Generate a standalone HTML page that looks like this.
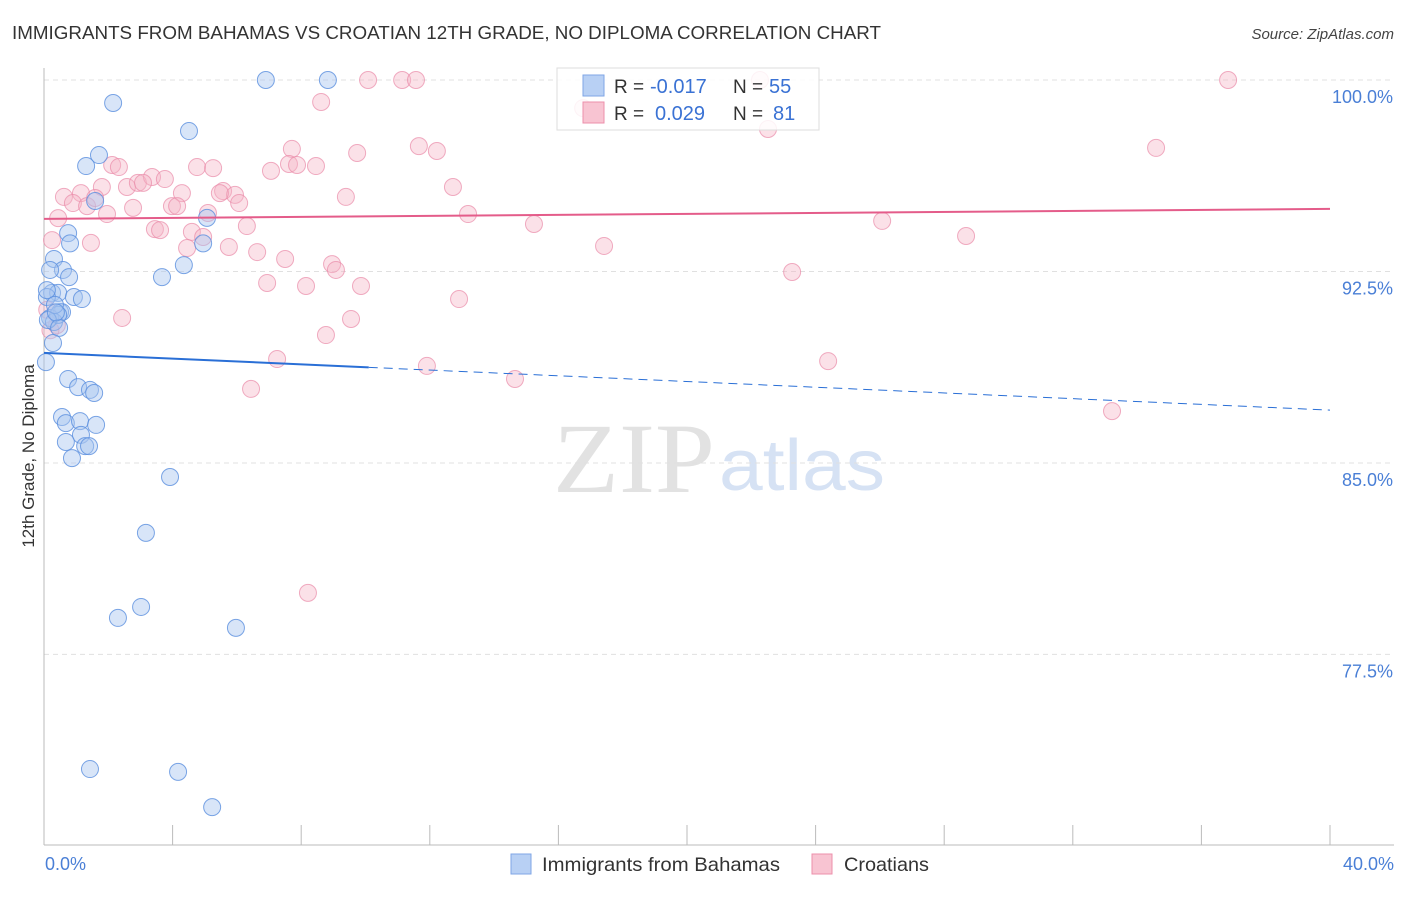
<!DOCTYPE html>
<html><head><meta charset="utf-8"><style>
body{margin:0;background:#fff;width:1406px;height:892px;overflow:hidden;font-family:"Liberation Sans",sans-serif}
</style></head><body>
<svg id="chart" width="1406" height="892" xmlns="http://www.w3.org/2000/svg" font-family="Liberation Sans, sans-serif">
<text x="12" y="39" font-size="18" fill="#333" textLength="869" lengthAdjust="spacingAndGlyphs">IMMIGRANTS FROM BAHAMAS VS CROATIAN 12TH GRADE, NO DIPLOMA CORRELATION CHART</text>
<text x="1394" y="39" font-size="15" font-style="italic" fill="#444" text-anchor="end">Source: ZipAtlas.com</text>
<text x="553" y="492" font-size="100" font-family="Liberation Serif, serif" fill="#e2e2e2" textLength="162" lengthAdjust="spacingAndGlyphs">ZIP</text>
<text x="719" y="490" font-size="72" fill="#d6e2f4" textLength="166" lengthAdjust="spacingAndGlyphs">atlas</text>
<text transform="translate(34,456) rotate(-90)" font-size="17" fill="#333" text-anchor="middle">12th Grade, No Diploma</text>
<g id="grid"></g><g id="pts"></g><g id="lines"></g>
<g>
<rect x="557" y="68" width="262" height="62" fill="#fff" fill-opacity="0.85" stroke="#ddd"/>
<rect x="583" y="75" width="21" height="21" fill="#b8d0f4" stroke="#7fa6e6"/>
<rect x="583" y="102" width="21" height="21" fill="#f8c4d2" stroke="#ec8fab"/>
<text x="614" y="93" font-size="19" fill="#333">R =</text>
<text x="650" y="93" font-size="20" fill="#3a72d4">-0.017</text>
<text x="733" y="93" font-size="19" fill="#333">N =</text>
<text x="769" y="93" font-size="20" fill="#3a72d4">55</text>
<text x="614" y="120" font-size="19" fill="#333">R =</text>
<text x="655" y="120" font-size="20" fill="#3a72d4">0.029</text>
<text x="733" y="120" font-size="19" fill="#333">N =</text>
<text x="773" y="120" font-size="20" fill="#3a72d4">81</text>
</g>
<g>
<rect x="511" y="854" width="20" height="20" fill="#b8d0f4" stroke="#7fa6e6"/>
<text x="542" y="871" font-size="19.5" fill="#333" textLength="238" lengthAdjust="spacingAndGlyphs">Immigrants from Bahamas</text>
<rect x="812" y="854" width="20" height="20" fill="#f8c4d2" stroke="#ec8fab"/>
<text x="844" y="871" font-size="19.5" fill="#333" textLength="85" lengthAdjust="spacingAndGlyphs">Croatians</text>
</g>
</svg>
<script>
const blueX=[6.9,8.83,2.15,4.51,1.71,1.31,1.59,5.07,0.75,0.81,4.95,0.31,4.35,0.59,0.78,3.67,0.25,0.44,0.93,1.18,0.09,0.5,0.56,0.19,0.31,0.44,0.12,0.47,0.28,0.06,0.75,1.06,1.43,1.56,0.56,0.68,1.12,1.62,1.15,0.68,1.28,1.4,0.87,3.92,3.17,3.02,2.3,5.97,1.43,4.17,5.23,0.09,0.34,0.19,0.37];
const blueY=[100,100,99.1,98.0,97.06,96.63,95.26,94.6,94.0,93.6,93.6,92.99,92.75,92.56,92.28,92.28,91.66,91.66,91.5,91.42,91.5,90.91,90.91,90.68,90.52,90.8,90.6,90.29,89.7,88.95,88.29,87.97,87.86,87.74,86.8,86.56,86.64,86.49,86.1,85.82,85.66,85.66,85.19,84.45,82.26,79.36,78.93,78.54,73.01,72.9,71.52,91.77,91.19,92.56,90.9];
const pinkX=[10.08,11.14,11.57,36.83,22.27,16.77,22.52,8.62,7.71,9.74,11.66,12.22,7.06,7.62,7.87,8.46,4.76,5.26,2.12,2.33,12.72,9.39,13.19,0.62,1.15,1.8,0.9,1.34,1.59,2.58,2.92,3.36,3.76,3.08,1.96,2.77,4.29,3.98,4.14,5.57,5.94,6.07,5.47,0.44,0.25,1.46,3.45,3.61,4.6,4.95,5.1,4.45,6.31,5.75,6.63,7.5,8.96,9.08,6.94,8.15,9.86,12.91,2.43,9.55,8.77,7.25,11.91,6.44,14.65,34.59,26.07,28.68,17.42,15.24,23.27,24.39,33.22,8.21,0.4,0.1,0.2];
const pinkY=[100,100,100,100,100,98.9,98.08,99.14,97.3,97.14,97.41,97.22,96.44,96.71,96.67,96.63,96.59,96.55,96.67,96.59,95.81,95.42,94.75,95.42,95.57,95.81,95.18,95.06,95.38,95.81,95.97,96.2,96.12,95.97,94.75,94.99,95.57,95.06,95.06,95.65,95.5,95.18,95.57,94.59,93.73,93.62,94.16,94.12,94.05,93.85,94.79,93.42,94.28,93.46,93.26,92.99,92.79,92.56,92.05,91.93,91.93,91.42,90.68,90.64,90.01,89.07,88.8,87.9,88.29,97.34,94.48,93.89,93.5,94.36,92.48,88.99,87.03,79.91,90.4,91.0,90.2];
const yTicks=[100,92.5,85,77.5];
const yTickLabels=["100.0%","92.5%","85.0%","77.5%"];
const xTickLabels=["0.0%","40.0%"];
const blueTrend=[89.31,87.07];
const pinkTrend=[94.56,94.95];
const blueSolidEnd=10.1;
const NS="http://www.w3.org/2000/svg";
const sx=v=>44+v*32.15, sy=v=>80+(100-v)*25.53;
function mk(tag,attrs,parent){const e=document.createElementNS(NS,tag);for(const k in attrs)e.setAttribute(k,attrs[k]);parent.appendChild(e);return e;}
const grid=document.getElementById('grid');
yTicks.forEach((t,i)=>{
 const l=mk('line',{x1:44,x2:1394,y1:sy(t),y2:sy(t),stroke:'#e0e0e0','stroke-dasharray':'5,4'},grid);
 
 
 const tx=mk('text',{x:1393,y:sy(t)+23,'font-size':18,fill:'#4a7fd6','text-anchor':'end'},grid);
 tx.textContent=yTickLabels[i];
 
 
});
const ax=mk('line',{x1:44,x2:44,y1:68,y2:845,stroke:'#bbb'},grid);


const bx=mk('line',{x1:44,x2:1394,y1:845,y2:845,stroke:'#bbb'},grid);


for(let i=0;i<=10;i++){const t=mk('line',{x1:sx(i*4),x2:sx(i*4),y1:825,y2:845,stroke:'#bbb'},grid);
 
 }
[[0,'start',45],[40,'end',1394]].forEach((d,i)=>{const t=mk('text',{x:d[2],y:870,'font-size':18,fill:'#4a7fd6','text-anchor':d[1]},grid);t.textContent=xTickLabels[i];
 
 });
const pts=document.getElementById('pts');
pinkX.forEach((x,i)=>{const c=mk('circle',{cx:sx(x),cy:sy(pinkY[i]),r:8.5,fill:'#f5b3c6','fill-opacity':0.4,stroke:'#e98aa8','stroke-opacity':0.7},pts);
 
 });
blueX.forEach((x,i)=>{const c=mk('circle',{cx:sx(x),cy:sy(blueY[i]),r:8.5,fill:'#a9c6f0','fill-opacity':0.45,stroke:'#5a8fde','stroke-opacity':0.8},pts);
 
 });
const lines=document.getElementById('lines');
const by=x=>blueTrend[0]+(blueTrend[1]-blueTrend[0])*x/40;
let l1=mk('line',{x1:sx(0),y1:sy(by(0)),x2:sx(blueSolidEnd),y2:sy(by(blueSolidEnd)),stroke:'#2a6fd6','stroke-width':2},lines);


let l2=mk('line',{x1:sx(blueSolidEnd),y1:sy(by(blueSolidEnd)),x2:sx(40),y2:sy(by(40)),stroke:'#2a6fd6','stroke-width':1,'stroke-dasharray':'9,6'},lines);


let l3=mk('line',{x1:sx(0),y1:sy(pinkTrend[0]),x2:sx(40),y2:sy(pinkTrend[1]),stroke:'#e45c8a','stroke-width':2},lines);


</script>
</body></html>
